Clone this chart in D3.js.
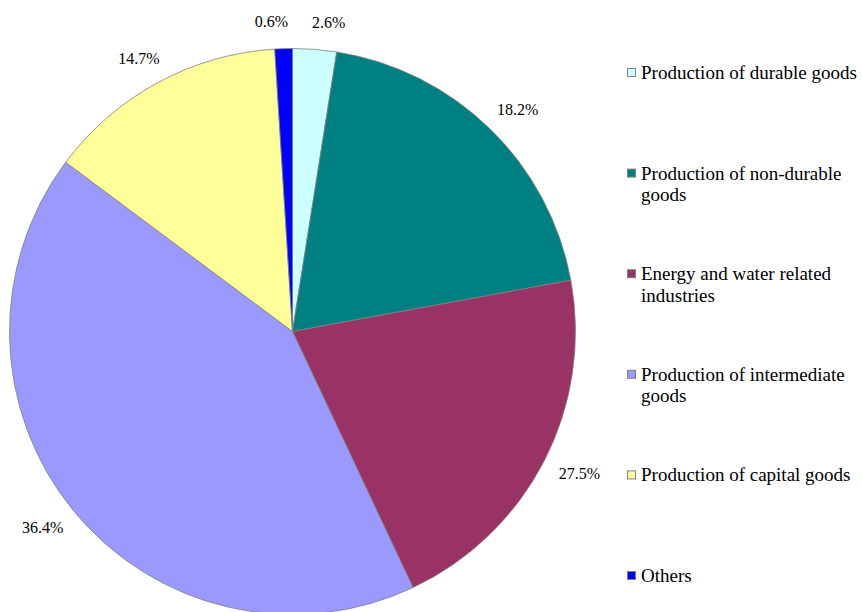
<!DOCTYPE html>
<html>
<head>
<meta charset="utf-8">
<script src="https://cdn.jsdelivr.net/npm/d3@7"></script>
<style>
    body { margin: 0; background: #fff; }
</style>
</head>
<body>
<svg id="chart" width="862" height="612"></svg>
<script>
// sectors in drawing order, clockwise from 12 o'clock
var sectors = ["Production of durable goods",
	       "Production of non-durable goods",
	       "Energy and water related industries",
	       "Production of intermediate goods",
	       "Production of capital goods",
	       "Others"];
// slice shares as drawn in the picture (%)
var shares = [2.5, 19.6, 20.9, 42.2, 13.8, 1.0];
// data labels as printed next to the slices
var pctLabels = ["2.6%", "18.2%", "27.5%", "36.4%", "14.7%", "0.6%"];
var colors = ["#CCFFFF", "#008080", "#993366", "#9999FF", "#FFFF99", "#0000FF"];

var FONT = "'Liberation Serif', 'Times New Roman', 'DejaVu Serif', serif";

function drawPie() {
    var svg = d3.select("#chart");
    var cx = 292.5, cy = 331.5, r = 283;
    var data = sectors.map(function(s, i) {
	return {name: s, value: shares[i], label: pctLabels[i], color: colors[i]};
    });

    var pie = d3.pie().sort(null).value(d => d.value);
    var arc = d3.arc().innerRadius(0).outerRadius(r);
    var arcs = pie(data);

    var g = svg.append("g")
	.attr("transform", "translate(" + cx + "," + cy + ")");

    g.selectAll(".slice")
	.data(arcs)
	.enter().append("path")
	.attr("class", "slice")
	.attr("d", arc)
	.style("fill", d => d.data.color)
	.style("stroke", "#808080")
	.style("stroke-width", 0.8);

    // labels just outside the rim, pushed out by half the text box
    var lr = 302;
    var labels = g.selectAll(".plabel")
	.data(arcs)
	.enter().append("text")
	.attr("class", "plabel")
	.attr("text-anchor", "middle")
	.attr("dominant-baseline", "central")
	.style("font-family", FONT)
	.style("font-size", "16px")
	.style("fill", "#000")
	.text(d => d.data.label)
	.each(function(d) {
	    var a = (d.startAngle + d.endAngle) / 2;
	    var hw = this.getComputedTextLength() / 2;
	    d.lx = Math.sin(a) * (lr + hw);
	    d.ly = -Math.cos(a) * (lr + 8);
	    d.hw = hw;
	});

    // keep neighbouring labels apart (the two thin slices at the top)
    for (var i = 0; i < arcs.length; i++) {
	var p = arcs[i], q = arcs[(i + 1) % arcs.length];
	if (Math.abs(p.ly - q.ly) < 16) {
	    var need = p.hw + q.hw + 24;
	    var gap = Math.abs(p.lx - q.lx);
	    if (gap < need) {
		var m = (p.lx + q.lx) / 2, s = p.lx < q.lx ? -1 : 1;
		p.lx = m + s * need / 2;
		q.lx = m - s * need / 2;
	    }
	}
    }
    labels.attr("x", d => d.lx).attr("y", d => d.ly);

    // legend
    var lg = svg.append("g").attr("transform", "translate(627,0)");
    var y = d3.scaleBand().range([79, 79 + 6 * 100.6]).domain(sectors);
    var item = lg.selectAll(".item")
	.data(data)
	.enter().append("g")
	.attr("class", "item")
	.attr("transform", d => "translate(0," + y(d.name) + ")");
    item.append("rect")
	.attr("x", 0.5)
	.attr("y", -10.5)
	.attr("width", 8)
	.attr("height", 8)
	.style("fill", d => d.color)
	.style("stroke", "#808080")
	.style("stroke-width", 1);
    item.append("text")
	.attr("x", 14)
	.attr("y", 0)
	.style("font-family", FONT)
	.style("font-size", "19px")
	.style("fill", "#000")
	.each(function(d) {
	    var t = d3.select(this);
	    var words = d.name.split(" ");
	    var line = [];
	    var ts = t.append("tspan").attr("x", 14).attr("dy", 0);
	    words.forEach(function(w) {
		line.push(w);
		ts.text(line.join(" "));
		if (ts.node().getComputedTextLength() > 222 && line.length > 1) {
		    line.pop();
		    ts.text(line.join(" "));
		    line = [w];
		    ts = t.append("tspan").attr("x", 14).attr("dy", 21.5).text(w);
		}
	    });
	});
}

drawPie();
</script>
</body>
</html>
